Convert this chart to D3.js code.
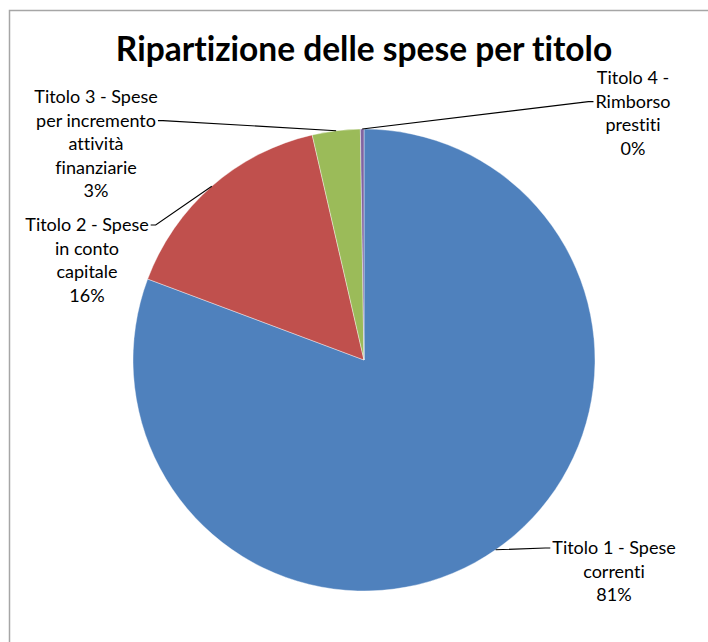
<!DOCTYPE html>
<html><head><meta charset="utf-8">
<script src="https://cdn.jsdelivr.net/npm/d3@7"></script>
<style>html,body{margin:0;padding:0;background:#fff;}svg{display:block;}text{font-variant-ligatures:none;font-feature-settings:"liga" 0,"clig" 0;}</style>
</head><body>
<script>
const categories = ["Titolo 1 - Spese correnti", "Titolo 2 - Spese in conto capitale", "Titolo 3 - Spese per incremento attività finanziarie", "Titolo 4 - Rimborso prestiti"];
const values = [80.7, 15.7, 3.35, 0.25];
const labelLines = [
  ["Titolo 1 - Spese", "correnti"],
  ["Titolo 2 - Spese", "in conto", "capitale"],
  ["Titolo 3 - Spese", "per incremento", "attività", "finanziarie"],
  ["Titolo 4 -", "Rimborso", "prestiti"]
];
const colors = ["#4F81BD", "#C0504D", "#9BBB59", "#8064A2"];
const title = "Ripartizione delle spese per titolo";

// layout (label block centre x, first baseline y, leader attaches to line index)
const layout = [
  {x: 614, y: 554, lineAt: 0, side: "left"},
  {x: 87,  y: 231, lineAt: 0, side: "right"},
  {x: 96,  y: 103, lineAt: 1, side: "right"},
  {x: 633, y: 84,  lineAt: 1, side: "left"}
];

const W = 708, H = 642, cx = 364, cy = 360, R = 231, lh = 23.6;
const svg = d3.select("body").append("svg").attr("width", W).attr("height", H);

svg.append("path").attr("d", `M9.5,${H} L9.5,10.5 L${W},10.5`)
  .attr("fill", "none").attr("stroke", "#a6a6a6").attr("stroke-width", 1.5);

svg.append("text").attr("x", 364).attr("y", 61).attr("text-anchor", "middle")
  .attr("font-family", "Lato, sans-serif").attr("font-weight", "bold").attr("font-size", 33.5)
  .attr("fill", "#000").text(title);

const pie = d3.pie().sort(null).value(d => d);
const arcs = pie(values);
const arc = d3.arc().innerRadius(0).outerRadius(R);
const g = svg.append("g").attr("transform", `translate(${cx},${cy})`);
g.selectAll("path").data(arcs).join("path")
  .attr("d", arc).attr("fill", (d, i) => colors[i])
  .attr("stroke", "#fff").attr("stroke-width", 0.4);

const total = d3.sum(values);
const fmt = v => Math.round(v / total * 100) + "%";

arcs.forEach((a, i) => {
  const mid = (a.startAngle + a.endAngle) / 2;
  const px = cx + R * Math.sin(mid), py = cy - R * Math.cos(mid);
  const L = layout[i];
  const lines = labelLines[i].concat([fmt(values[i])]);
  const t = svg.append("text").attr("text-anchor", "middle")
    .attr("font-family", "Lato, sans-serif").attr("font-size", 18).attr("fill", "#000");
  lines.forEach((s, k) => t.append("tspan").attr("x", L.x).attr("y", L.y + k * lh).text(s));
  const tsp = t.node().childNodes[L.lineAt];
  const w = tsp.getComputedTextLength();
  const ly = L.y + L.lineAt * lh - 6;
  const ex = L.side === "left" ? L.x - w / 2 - 2 : L.x + w / 2 + 2;
  const elbow = L.side === "left" ? ex - 5 : ex + 5;
  svg.append("path").attr("d", `M${px},${py} L${elbow},${ly} L${ex},${ly}`)
    .attr("fill", "none").attr("stroke", "#000").attr("stroke-width", 1.1);
});
</script>
</body></html>
